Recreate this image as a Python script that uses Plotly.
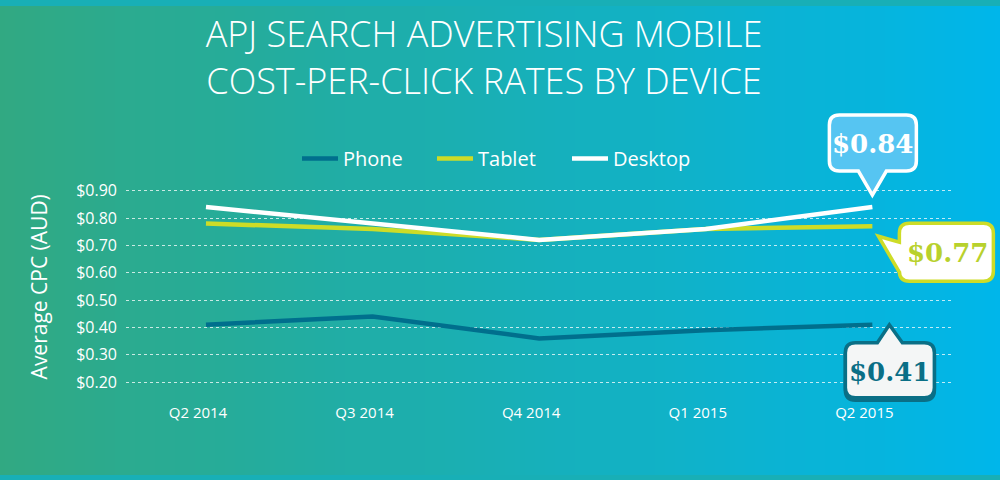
import plotly.graph_objects as go

# chart data
quarters = ["Q2 2014", "Q3 2014", "Q4 2014", "Q1 2015", "Q2 2015"]
phone = [0.41, 0.44, 0.36, 0.39, 0.41]
tablet = [0.78, 0.76, 0.72, 0.76, 0.77]
desktop = [0.84, 0.78, 0.72, 0.76, 0.84]
y_ticks = [0.20, 0.30, 0.40, 0.50, 0.60, 0.70, 0.80, 0.90]

PHONE_C = "#006f8d"
TABLET_C = "#cddc27"
DESKTOP_C = "#ffffff"
BG_LEFT = (49, 169, 130)
BG_RIGHT = (0, 182, 234)

X_DOM, X_RNG = [0.126, 0.954], [-0.48, 4.49]
Y_DOM, Y_RNG = [0.18625, 0.617917], [0.18, 0.92]


def full_range(dom, rng):
    # same data scale as the main axis but stretched over the whole figure
    upp = (rng[1] - rng[0]) / (dom[1] - dom[0])
    return [rng[0] - dom[0] * upp, rng[1] + (1 - dom[1]) * upp]


x_pos = list(range(len(quarters)))
last = len(quarters) - 1

fig = go.Figure()
for name, vals, col in [("Phone", phone, PHONE_C),
                        ("Tablet", tablet, TABLET_C),
                        ("Desktop", desktop, DESKTOP_C)]:
    fig.add_trace(go.Scatter(x=x_pos, y=vals, name=name, mode="lines",
                             line=dict(color=col, width=4.5)))

# invisible helper so the full-size overlay subplot exists
fig.add_trace(go.Scatter(x=[last], y=[desktop[last]], xaxis="x2", yaxis="y2",
                         mode="markers", marker=dict(opacity=0),
                         showlegend=False, hoverinfo="skip"))

shapes = []
# background gradient, left green to right cyan
n_strips = 200
for i in range(n_strips):
    t = i / (n_strips - 1)
    r, g, b = [round(a + (c - a) * t) for a, c in zip(BG_LEFT, BG_RIGHT)]
    shapes.append(dict(type="rect", xref="paper", yref="paper",
                       x0=i / n_strips, x1=(i + 1.5) / n_strips, y0=0, y1=1,
                       fillcolor=f"rgb({r},{g},{b})", line=dict(width=0),
                       layer="below"))


def bubble_path(x0, x1, y0, y1, r, side, ta, tb, tip):
    # rounded box with a pointer, pixel offsets, y pointing up
    p = [f"M {x0 + r},{y1}"]
    if side == "top":
        p += [f"L {ta},{y1}", f"L {tip[0]},{tip[1]}", f"L {tb},{y1}"]
    p += [f"L {x1 - r},{y1}", f"Q {x1},{y1} {x1},{y1 - r}",
          f"L {x1},{y0 + r}", f"Q {x1},{y0} {x1 - r},{y0}"]
    if side == "bottom":
        p += [f"L {tb},{y0}", f"L {tip[0]},{tip[1]}", f"L {ta},{y0}"]
    p += [f"L {x0 + r},{y0}", f"Q {x0},{y0} {x0},{y0 + r}"]
    if side == "left":
        p += [f"L {x0},{ta}", f"L {tip[0]},{tip[1]}", f"L {x0},{tb}"]
    p += [f"L {x0},{y1 - r}", f"Q {x0},{y1} {x0 + r},{y1}", "Z"]
    return " ".join(p)


callouts = [
    # value, fill, border, text colour, box, pointer, text offset, shadow
    (desktop[last], "#56c5f2", "#ffffff", "#ffffff",
     (-43, 44, 36, 92), ("bottom", -14, 14, (0, 12)), (0, 63), None),
    (tablet[last], "#ffffff", TABLET_C, "#b8d12d",
     (27, 121, -55, 3), ("left", -46, -16, (6, -10)), (75, -27), None),
    (phone[last], "#f4f6f6", "#0a6f86", "#0a6f86",
     (-27, 62, -73, -18), ("top", 5, 30, (17, 0)), (17, -47), "#0a6f86"),
]

annotations = []
for val, fill, border, tcol, box, ptr, toff, shadow in callouts:
    if shadow:
        sp = bubble_path(box[0], box[1], box[2] - 2.5, box[3] - 2.5, 10,
                         ptr[0], ptr[1], ptr[2],
                         (ptr[3][0], ptr[3][1] - 2.5))
        shapes.append(dict(type="path", xref="x2", yref="y2",
                           xsizemode="pixel", ysizemode="pixel",
                           xanchor=last, yanchor=val, path=sp,
                           fillcolor=shadow, line=dict(color=shadow, width=3.5),
                           layer="above"))
    path = bubble_path(box[0], box[1], box[2], box[3], 10,
                       ptr[0], ptr[1], ptr[2], ptr[3])
    shapes.append(dict(type="path", xref="x2", yref="y2",
                       xsizemode="pixel", ysizemode="pixel",
                       xanchor=last, yanchor=val, path=path,
                       fillcolor=fill, line=dict(color=border, width=3.5),
                       layer="above"))
    annotations.append(dict(x=last, y=val, xref="x2", yref="y2",
                            text=f"${val:.2f}", showarrow=False,
                            xshift=toff[0], yshift=toff[1],
                            font=dict(family="DejaVu Serif", size=26,
                                      color=tcol, weight="bold")))

annotations.append(dict(x=0.039, y=0.4, xref="paper", yref="paper",
                        xanchor="center", yanchor="middle",
                        text="Average CPC (AUD)", textangle=-90,
                        showarrow=False,
                        font=dict(family="Open Sans", size=21, color="white")))

fig.update_layout(
    width=1000, height=480,
    margin=dict(l=0, r=0, t=0, b=0),
    paper_bgcolor="rgb(24,175,182)",
    plot_bgcolor="rgba(0,0,0,0)",
    shapes=shapes,
    annotations=annotations,
    title=dict(text="APJ SEARCH ADVERTISING MOBILE<br>COST-PER-CLICK RATES BY DEVICE",
               x=0.484, xanchor="center", y=0.902, yanchor="middle",
               font=dict(family="Open Sans", size=36, color="white",
                         weight=300)),
    showlegend=True,
    legend=dict(orientation="h", x=0.297, xanchor="left",
                y=0.675, yanchor="middle", bgcolor="rgba(0,0,0,0)",
                font=dict(family="Open Sans", size=20, color="white"),
                itemwidth=36, entrywidth=84, entrywidthmode="pixels"),
    xaxis=dict(domain=X_DOM, range=X_RNG,
               tickvals=x_pos, ticktext=quarters,
               showgrid=False, zeroline=False, showline=False,
               ticks="", ticklabelstandoff=14, ticklabelshift=-8,
               tickfont=dict(family="Open Sans", size=15, color="white")),
    yaxis=dict(domain=Y_DOM, range=Y_RNG,
               tickvals=y_ticks, tickformat="$.2f",
               showgrid=True, gridcolor="rgba(255,255,255,0.75)",
               griddash="dot", gridwidth=1,
               zeroline=False, showline=False, ticks="",
               ticklabelstandoff=8,
               tickfont=dict(family="Open Sans", size=16, color="white")),
    xaxis2=dict(domain=[0, 1], range=full_range(X_DOM, X_RNG),
                anchor="y2", visible=False, fixedrange=True),
    yaxis2=dict(domain=[0, 1], range=full_range(Y_DOM, Y_RNG),
                anchor="x2", visible=False, fixedrange=True),
    hovermode=False,
)

fig.write_html("out.html", config={"displayModeBar": False},
               post_script="document.body.style.margin='0';")
